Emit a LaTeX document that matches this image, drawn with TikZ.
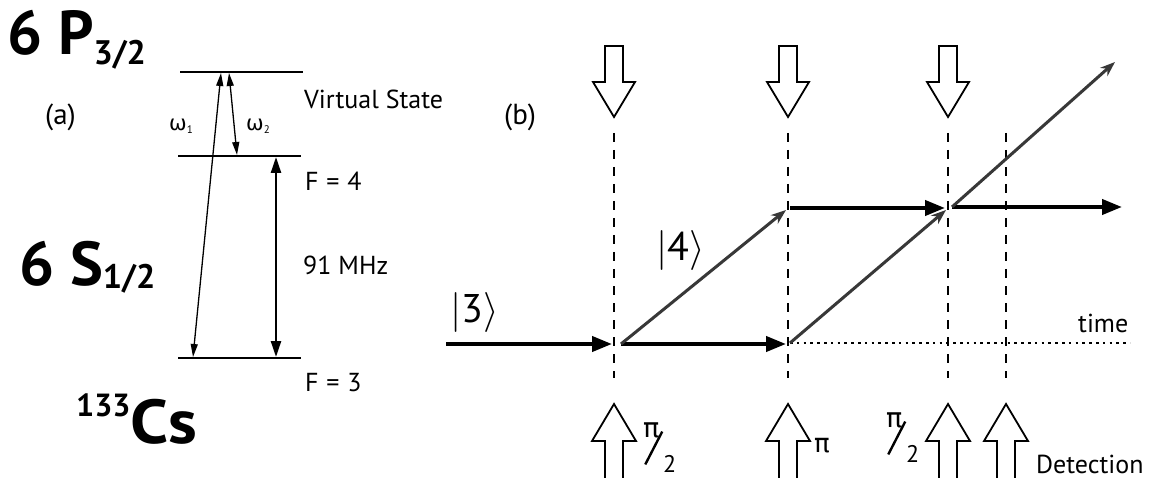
\RequirePackage{fix-cm}
\documentclass[tikz,border=0pt]{standalone}
\usepackage{fontspec}
\setmainfont{PT Sans}
\newfontfamily\grk{DejaVu Sans}
\usetikzlibrary{arrows.meta}

\tikzset{
  lvl/.style={line width=1.8pt},
  lbl/.style={inner sep=0pt, anchor=base west, font=\fontsize{26}{28}\selectfont},
  tag/.style={inner sep=0pt, anchor=base west, font=\fontsize{29}{30}\selectfont},
  big/.style={inner sep=0pt, anchor=base west, font=\fontsize{62}{62}\selectfont\bfseries},
  ket/.style={inner sep=0pt, anchor=base west, font=\fontsize{40}{40}\selectfont},
  frac/.style={inner sep=0pt, anchor=base west, font=\fontsize{24}{24}\selectfont},
  grklbl/.style={inner sep=0pt, font=\fontsize{26}{26}\selectfont\grk},
  trans/.style={line width=1.3pt, {Triangle[length=13pt,width=7pt]}-{Triangle[length=13pt,width=7pt]}},
  hfs/.style={line width=2.4pt, {Triangle[length=16pt,width=10pt]}-{Triangle[length=16pt,width=10pt]}},
  pulse/.style={line width=2pt, dash pattern=on 9pt off 8pt},
  beam/.style={draw, line width=1.8pt, fill=white, line join=miter},
  track/.style={line width=4pt, -{Triangle[length=20pt,width=15pt]}},
  branch/.style={line width=3pt, draw=black!78, -{Stealth[length=15pt,width=11pt]}, color=black!78},
  axis/.style={line width=1.8pt, dash pattern=on 2.5pt off 4.3pt},
  downbeam/.pic={\path[beam] (-9,-71) -- (-9,-35) -- (-21,-35) -- (0,0) -- (21,-35) -- (9,-35) -- (9,-71) -- cycle;},
  upbeam/.pic={\path[beam] (-9,95) -- (-9,37) -- (-22,37) -- (0,0) -- (22,37) -- (9,37) -- (9,95) -- cycle;},
}
% pi over two, set as a slanted fraction
\newcommand{\halfpi}{%
  \rlap{\raisebox{35pt}{\fontsize{27}{27}\selectfont\grk π}}%
  \rlap{\kern1pt\raisebox{7pt}{\rotatebox{62.7}{\rule{37pt}{2.4pt}}}}%
  \kern20pt 2}

\begin{document}
\begin{tikzpicture}[x=1pt,y=-1pt]
\useasboundingbox (0,0) rectangle (1161,478);
\clip (0,0) rectangle (1161,478);
\fill[white] (0,0) rectangle (1161,478);

% ---------- (a) level scheme of caesium ----------
\node[big] (p32) at (7,55) {6 P\raisebox{-0.15em}{\fontsize{34}{34}\selectfont 3/2}};
\node[big] (s12) at (19,285) {6 S\raisebox{-0.06em}{\fontsize{34}{34}\selectfont 1/2}};
\node[big] (cs) at (76,443) {\raisebox{0.42em}{\fontsize{32}{32}\selectfont 133}\scalebox{1.1}[1]{Cs}};
\node[tag] (la) at (45,125) {(a)};

\coordinate (vL) at (180,72);  \coordinate (vR) at (303,72);
\coordinate (f4L) at (178,156); \coordinate (f4R) at (301,156);
\coordinate (f3L) at (178,358); \coordinate (f3R) at (301,358);
\draw[lvl] (vL) -- (vR);
\draw[lvl] (f4L) -- (f4R);
\draw[lvl] (f3L) -- (f3R);

\node[lbl] (virt) at (304,109) {Virtual State};
\node[lbl] (f4) at (305,191) {F\hspace{0.3em}=\hspace{0.3em}4};
\node[lbl] (hz) at (303,275) {91 MHz};
\node[lbl] (f3) at (305,391) {F\hspace{0.3em}=\hspace{0.3em}3};

\coordinate (w1lo) at (193,357); \coordinate (w1hi) at (221,73);
\coordinate (w2hi) at (229,73);  \coordinate (w2lo) at (237,155);
\coordinate (hlo) at (276,357);  \coordinate (hhi) at (276,157);
\draw[trans] (w1lo) -- (w1hi);
\draw[trans] (w2hi) -- (w2lo);
\draw[hfs] (hlo) -- (hhi);
\node[inner sep=0pt, anchor=base west] (om1) at (169,131) {{\fontsize{21}{21}\selectfont\grk ω}\raisebox{-0.25em}{\fontsize{11}{11}\selectfont 1}};
\node[inner sep=0pt, anchor=base west] (om2) at (246,131) {{\fontsize{21}{21}\selectfont\grk ω}\raisebox{-0.25em}{\fontsize{11}{11}\selectfont 2}};

% ---------- (b) atom interferometer sequence ----------
\node[tag] (lb) at (504,125) {(b)};

% pulse instants
\foreach \n/\x in {1/614, 2/788, 3/948, 4/1006} {
  \coordinate (t\n) at (\x,133);
  \coordinate (b\n) at (\x,378);
  \draw[pulse] (t\n) -- (b\n);
}
\foreach \x in {614, 788, 948} \pic at (\x,117) {downbeam};
\foreach \x in {614, 788, 948, 1006} \pic at (\x,404) {upbeam};

% pulse labels
\node[frac] (pa) at (643,472) {\halfpi};
\node[grklbl] (pb) at (822,446) {π};
\node[frac] (pc) at (886,462) {\halfpi};
\node[lbl] (det) at (1036,473) {Detection};

% state labels
\node[ket] (k3) at (450,322) {$|$3$\rangle$};
\node[ket] (k4) at (656,261) {$|$4$\rangle$};
\node[lbl] (tm) at (1078,332) {time};

% lower path and time axis
\coordinate (s0) at (446,344);
\coordinate (a1) at (612,344); \coordinate (c1) at (621,344);
\coordinate (a2) at (786,344); \coordinate (c2) at (790,343);
\coordinate (tend) at (1130,343);
\draw[track] (s0) -- (a1);
\draw[track] (c1) -- (a2);
\draw[axis] (c2) -- (tend);

% upper path
\coordinate (u1) at (786,210); \coordinate (h1) at (790,208);
\coordinate (h2) at (945,208); \coordinate (u2) at (946,210);
\coordinate (m) at (952,207);  \coordinate (hend) at (1122,207);
\coordinate (out) at (1115,62);
\draw[track] (h1) -- (h2);
\draw[track] (m) -- (hend);

% momentum kicks
\draw[branch] (c1) -- (u1);
\draw[branch] (c2) -- (u2);
\draw[branch] (m) -- (out);
\end{tikzpicture}
\end{document}
